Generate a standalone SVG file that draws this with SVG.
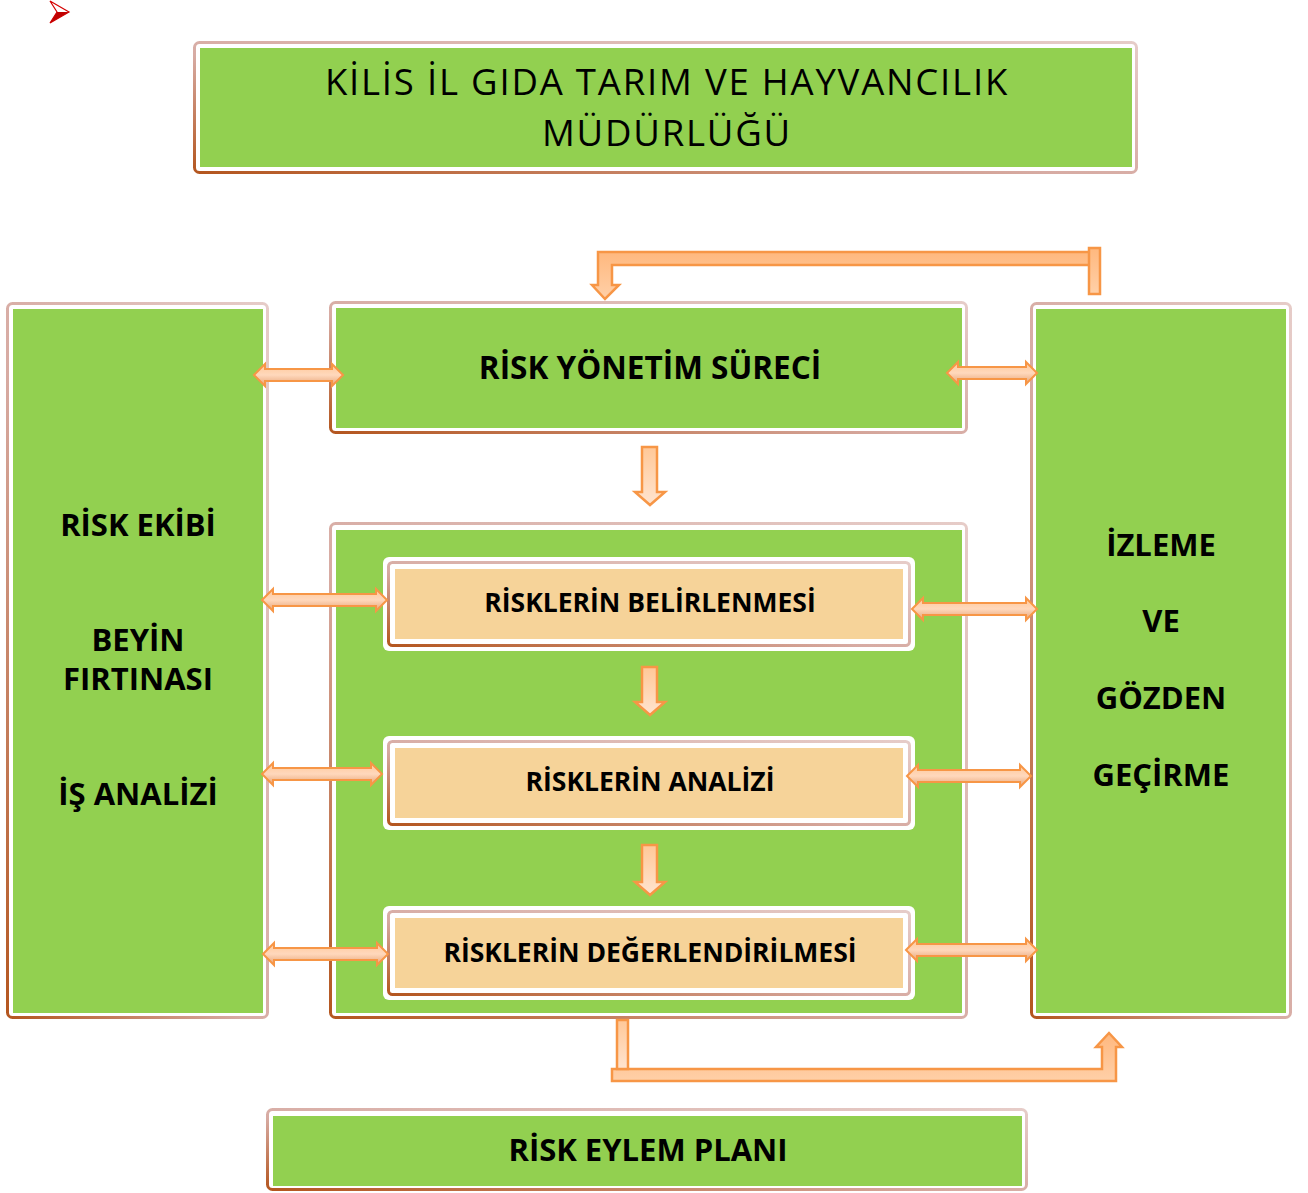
<svg xmlns="http://www.w3.org/2000/svg" width="1308" height="1193" viewBox="0 0 1308 1193">
<defs>
<linearGradient id="frameG" x1="1" y1="0" x2="0" y2="1">
<stop offset="0" stop-color="#e6ccc8"/>
<stop offset="0.55" stop-color="#d7aba3"/>
<stop offset="1" stop-color="#b4561f"/>
</linearGradient>
<linearGradient id="arrH" x1="0" y1="0" x2="0" y2="1">
<stop offset="0" stop-color="#ffc898"/>
<stop offset="0.5" stop-color="#ffd8bc"/>
<stop offset="1" stop-color="#e6a274"/>
</linearGradient>
<linearGradient id="arrV" x1="0" y1="0" x2="0" y2="1">
<stop offset="0" stop-color="#ffc898"/>
<stop offset="1" stop-color="#ffe4d0"/>
</linearGradient>
<linearGradient id="arrBar" x1="0" y1="0" x2="0" y2="1">
<stop offset="0" stop-color="#ffb87e"/>
<stop offset="1" stop-color="#ffd0a8"/>
</linearGradient>
</defs>
<style>
.frame{fill:#ffffff;stroke:url(#frameG);stroke-width:3}
.ring{fill:#ffffff}
.green{fill:#92d050}
.tan{fill:#f6d399}
.arr{fill:url(#arrH);stroke:#f79646;stroke-width:2;stroke-linejoin:miter}
.varr{fill:url(#arrV);stroke:#f79646;stroke-width:2.5}
.barr{fill:url(#arrBar);stroke:#f79646;stroke-width:2.5}
.t{font-family:"Open Sans","Noto Sans","DejaVu Sans",sans-serif;fill:#000;text-anchor:middle}
.b{font-weight:700}
.ttl{font-size:36.5px;letter-spacing:1.8px}
</style>

<polygon points="50,1 69,12 50,23 57,12" fill="#ffffff" stroke="#d40000" stroke-width="1.2"/>
<polygon points="57,12 69,12 50,23" fill="#c00000"/>

<g id="title">
<rect class="frame" x="194.5" y="42.5" width="942" height="130" rx="5"/>
<rect class="green" x="200" y="48" width="932" height="119"/>
<text class="t ttl" x="667" y="95">KİLİS İL GIDA TARIM VE HAYVANCILIK</text>
<text class="t ttl" x="667" y="146">MÜDÜRLÜĞÜ</text>
</g>

<g id="risk-ekibi">
<rect class="frame" x="7.5" y="303.5" width="260" height="714" rx="5"/>
<rect class="green" x="13" y="309" width="250" height="704"/>
<text class="t b" x="138" y="536" font-size="31">RİSK EKİBİ</text>
<text class="t b" x="138" y="651" font-size="31">BEYİN</text>
<text class="t b" x="138" y="690" font-size="31">FIRTINASI</text>
<text class="t b" x="138" y="805" font-size="31">İŞ ANALİZİ</text>
</g>

<g id="risk-yonetim">
<rect class="frame" x="330.5" y="302.5" width="636" height="130" rx="5"/>
<rect class="green" x="336" y="308" width="626" height="120"/>
<text class="t b" x="650" y="379" font-size="31.5">RİSK YÖNETİM SÜRECİ</text>
</g>

<g id="surec">
<rect class="frame" x="330.5" y="523.5" width="636" height="494" rx="5"/>
<rect class="green" x="336" y="530" width="626" height="483"/>
</g>

<g id="izleme">
<rect class="frame" x="1031.5" y="303.5" width="259" height="714" rx="5"/>
<rect class="green" x="1036" y="309" width="250" height="704"/>
<text class="t b" x="1161" y="556" font-size="31">İZLEME</text>
<text class="t b" x="1161" y="632" font-size="31">VE</text>
<text class="t b" x="1161" y="709" font-size="31">GÖZDEN</text>
<text class="t b" x="1161" y="786" font-size="31">GEÇİRME</text>
</g>

<g id="belirlenmesi">
<rect class="ring" x="383" y="557" width="532" height="94" rx="6"/>
<rect class="frame" x="388.5" y="562.5" width="521" height="83" rx="4"/>
<rect class="tan" x="395" y="569" width="508" height="70"/>
<text class="t b" x="650" y="612" font-size="26.5">RİSKLERİN BELİRLENMESİ</text>
</g>

<g id="analizi">
<rect class="ring" x="383" y="736" width="532" height="94" rx="6"/>
<rect class="frame" x="388.5" y="741.5" width="521" height="83" rx="4"/>
<rect class="tan" x="395" y="748" width="508" height="70"/>
<text class="t b" x="650" y="791" font-size="26.5">RİSKLERİN ANALİZİ</text>
</g>

<g id="degerlendirilmesi">
<rect class="ring" x="383" y="906" width="532" height="94" rx="6"/>
<rect class="frame" x="388.5" y="911.5" width="521" height="83" rx="4"/>
<rect class="tan" x="395" y="918" width="508" height="70"/>
<text class="t b" x="650" y="962" font-size="26.5">RİSKLERİN DEĞERLENDİRİLMESİ</text>
</g>

<g id="eylem-plani">
<rect class="frame" x="267.5" y="1109.5" width="759" height="80" rx="5"/>
<rect class="green" x="273" y="1116" width="749" height="70"/>
<text class="t b" x="648" y="1161" font-size="31">RİSK EYLEM PLANI</text>
</g>

<g id="connectors">
<path class="barr" d="M1090,252 L598,252 L598,285 L592,285 L605,299 L619,285 L612,285 L612,265 L1090,265 Z"/>
<rect class="barr" x="1089" y="248" width="11" height="46"/>

<path class="varr" d="M642,447 L657,447 L657,492 L665,492 L650,505 L635,492 L642,492 Z"/>
<path class="varr" d="M642,667 L657,667 L657,702 L665,702 L650,715 L635,702 L642,702 Z"/>
<path class="varr" d="M642,845 L657,845 L657,882 L665,882 L650,895 L635,882 L642,882 Z"/>

<path class="arr" d="M254,375 L265,364 L265,369 L332,369 L332,364 L343,375 L332,386 L332,381 L265,381 L265,386 Z"/>
<path class="arr" d="M947,373 L958,362 L958,367 L1026,367 L1026,362 L1037,373 L1026,384 L1026,379 L958,379 L958,384 Z"/>
<path class="arr" d="M262,600 L273,589 L273,594 L376,594 L376,589 L387,600 L376,611 L376,606 L273,606 L273,611 Z"/>
<path class="arr" d="M912,609 L923,598 L923,603 L1026,603 L1026,598 L1037,609 L1026,620 L1026,615 L923,615 L923,620 Z"/>
<path class="arr" d="M262,774 L273,763 L273,768 L371,768 L371,763 L382,774 L371,785 L371,780 L273,780 L273,785 Z"/>
<path class="arr" d="M907,776 L918,765 L918,770 L1020,770 L1020,765 L1031,776 L1020,787 L1020,782 L918,782 L918,787 Z"/>
<path class="arr" d="M263,954 L274,943 L274,948 L377,948 L377,943 L388,954 L377,965 L377,960 L274,960 L274,965 Z"/>
<path class="arr" d="M906,950 L917,939 L917,944 L1026,944 L1026,939 L1037,950 L1026,961 L1026,956 L917,956 L917,961 Z"/>

<path class="barr" d="M612,1069 L1102,1069 L1102,1047 L1096,1047 L1109,1033 L1122,1047 L1116,1047 L1116,1081 L612,1081 Z"/>
<rect class="varr" x="617" y="1020" width="11" height="49"/>
</g>
</svg>
